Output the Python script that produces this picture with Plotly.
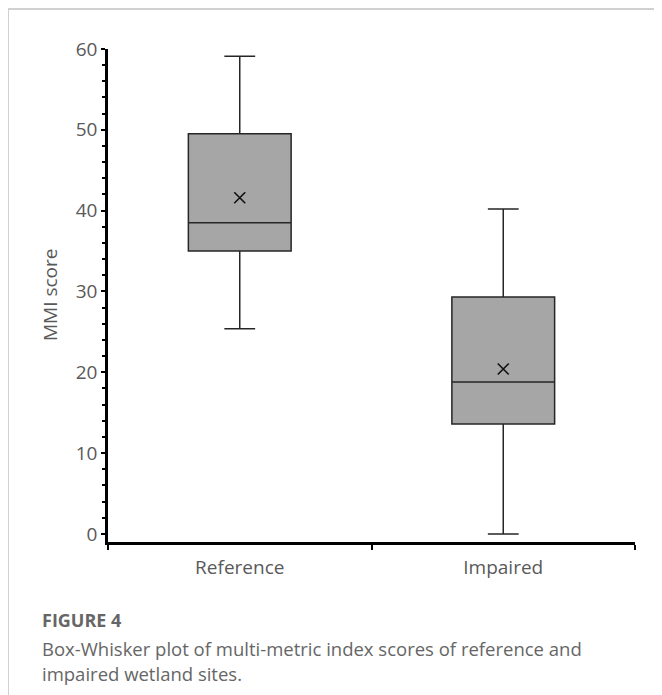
import plotly.graph_objects as go

# ---- data ----
categories = ["Reference", "Impaired"]
lower_whisker = [25.4, 0.0]
q1_values = [35.0, 13.6]
median_values = [38.5, 18.8]
q3_values = [49.5, 29.3]
upper_whisker = [59.1, 40.2]
mean_values = [41.6, 20.4]
y_tick_values = [0, 10, 20, 30, 40, 50, 60]

# ---- layout geometry (page pixels; the page has an 8px body margin) ----
OFF = 8
W, H = 662 - OFF, 695 - OFF
L, T = 108 - OFF, 49 - OFF
R = W - (635 - OFF)
B = H - (542 - OFF)
PW, PH = W - L - R, H - T - B


def px_x(px):
    return (px - OFF - L) / PW


def px_y(py):
    return (H - B - (py - OFF)) / PH


FONT = "Open Sans"
GREY = "#595959"
CAP = "#666666"

fig = go.Figure()

for i, cat in enumerate(categories):
    fig.add_trace(go.Box(
        x=[cat],
        q1=[q1_values[i]],
        median=[median_values[i]],
        q3=[q3_values[i]],
        lowerfence=[lower_whisker[i]],
        upperfence=[upper_whisker[i]],
        fillcolor="#a6a6a6",
        line=dict(color="#262626", width=1.5),
        width=0.39,
        whiskerwidth=0.3,
        boxpoints=False,
        showlegend=False,
        hoverinfo="skip",
    ))

fig.add_trace(go.Scatter(
    x=categories,
    y=mean_values,
    mode="markers",
    marker=dict(symbol="x-thin", size=11, line=dict(width=1.6, color="#111111")),
    showlegend=False,
    hoverinfo="skip",
))

fig.update_layout(
    width=W, height=H,
    margin=dict(l=L, r=R, t=T, b=B),
    paper_bgcolor="white",
    plot_bgcolor="white",
    font=dict(family=FONT, color=GREY),
    xaxis=dict(
        type="category",
        range=[-0.5, 1.5],
        showline=True, linecolor="black", linewidth=2.5,
        ticks="outside", tickson="boundaries", ticklen=5, tickwidth=2, tickcolor="black",
        showgrid=False, zeroline=False,
        ticklabelstandoff=6,
        tickfont=dict(size=19, color=GREY, family=FONT),
    ),
    yaxis=dict(
        range=[-1, 60],
        tickvals=y_tick_values,
        showline=True, linecolor="black", linewidth=2.5,
        ticks="outside", ticklen=4, tickwidth=2, tickcolor="black",
        minor=dict(dtick=2, ticks="outside", ticklen=3, tickwidth=1.5, tickcolor="black"),
        showgrid=False, zeroline=False,
        tickfont=dict(size=19, color=GREY, family=FONT),
    ),
    shapes=[
        dict(type="line", xref="paper", yref="paper",
             x0=px_x(8), x1=px_x(670), y0=px_y(9), y1=px_y(9),
             line=dict(color="#d0d0d0", width=2)),
        dict(type="line", xref="paper", yref="paper",
             x0=px_x(8), x1=px_x(8), y0=px_y(9), y1=px_y(710),
             line=dict(color="#d0d0d0", width=2)),
    ],
    annotations=[
        dict(text="MMI score", textangle=-90, xref="paper", yref="paper",
             x=px_x(50), y=px_y(295), xanchor="center", yanchor="middle",
             showarrow=False, font=dict(size=19, color=GREY, family=FONT)),
        dict(text="<b>FIGURE 4</b>", xref="paper", yref="paper",
             x=px_x(40), y=px_y(620), xanchor="left", yanchor="middle",
             showarrow=False, font=dict(size=18, color=CAP, family=FONT)),
        dict(text="Box-Whisker plot of multi-metric index scores of reference and",
             xref="paper", yref="paper",
             x=px_x(40), y=px_y(648), xanchor="left", yanchor="middle",
             showarrow=False, font=dict(size=18.5, color=CAP, family=FONT)),
        dict(text="impaired wetland sites.",
             xref="paper", yref="paper",
             x=px_x(40), y=px_y(673), xanchor="left", yanchor="middle",
             showarrow=False, font=dict(size=18.5, color=CAP, family=FONT)),
    ],
)

fig.write_html("out.html")
